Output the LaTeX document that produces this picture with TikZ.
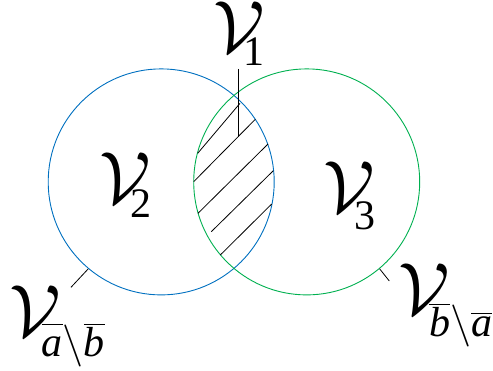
\RequirePackage{fix-cm}
\documentclass[tikz,border=0pt]{standalone}
\usepackage{amsmath}
\usepackage{fontspec}
\setmainfont{Liberation Serif}
\definecolor{cblue}{RGB}{0,112,192}
\definecolor{cgreen}{RGB}{0,176,80}
% V with a hand-placed subscript: #1 kern from V origin, #2 drop, #3 subscript
\newcommand{\mylab}[3]{%
  \makebox[0pt][l]{\fontsize{74}{74}\selectfont$\mathcal{V}$}%
  \kern#1\raisebox{-#2}{\fontsize{42}{42}\selectfont #3}}
\tikzset{
  setcirc/.style={circle, draw, line width=0.9pt, minimum size=226pt, inner sep=0pt},
  lbl/.style={anchor=base west, inner sep=0pt},
  hatch/.style={line width=0.8pt, black},
  leader/.style={line width=0.8pt, black}
}
\begin{document}
\begin{tikzpicture}[x=1pt,y=-1pt]
\useasboundingbox (0,0) rectangle (493,371);
\node[setcirc, draw=cblue] (A) at (161.2,181.9) {};
\node[setcirc, draw=cgreen] (B) at (306.7,181.9) {};
% hatching
\draw[hatch] (197.7,153.3) -- (240,103.3);
\draw[hatch] (193.7,181.7) -- (255.3,119.3);
\draw[hatch] (198,213.3) -- (268,144);
\draw[hatch] (211.3,231.7) -- (273.3,170.7);
\draw[hatch] (220.3,255) -- (271.7,204);
% labels
\node[lbl] (V1) at (213,53) {\mylab{30pt}{13pt}{1}};
\node[lbl] (V2) at (99.7,204) {\mylab{31pt}{14pt}{2}};
\node[lbl] (V3) at (323,213) {\mylab{31.5pt}{17pt}{3}};
\node[lbl] (Vab) at (9.7,337) {\mylab{32pt}{20pt}{$\overline{\vphantom{b}\textit{a}}\backslash\overline{\textit{b}}$}};
\node[lbl] (Vba) at (398,315) {\mylab{31pt}{22pt}{$\overline{\textit{b}}\backslash\overline{\textit{a}}$}};
% leaders
\coordinate (p1a) at (238.3,69);
\coordinate (p1b) at (238.3,136.7);
\draw[leader] (p1a) -- (p1b);
\coordinate (pab) at (71,287.3);
\draw[leader] (A.-130.7) -- (pab);
\coordinate (pba) at (389.3,281);
\draw[leader] (B.-50.7) -- (pba);
\end{tikzpicture}
\end{document}
